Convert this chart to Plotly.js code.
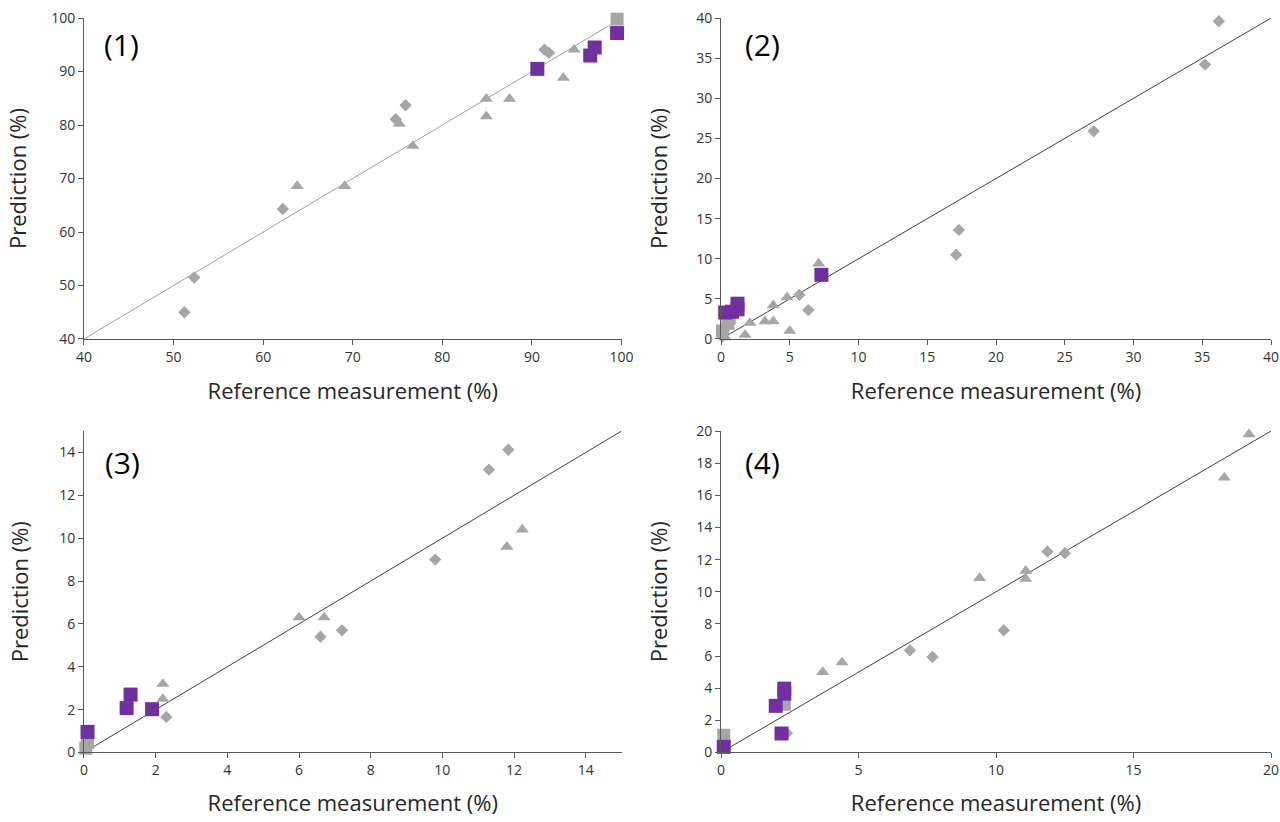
<!DOCTYPE html>
<html>
<head>
<meta charset="utf-8">
<script src="https://cdn.plot.ly/plotly-3.0.1.min.js"></script>
<style>html,body{margin:0;padding:0;background:#fff}#chart{width:1280px;height:822px}</style>
</head>
<body>
<div id="chart"></div>
<script>
// ---------- Panel (1) ----------
const p1DiamondX = [51.2, 52.3, 62.2, 74.8, 75.9, 91.4, 91.9];
const p1DiamondY = [45.0, 51.5, 64.3, 81.1, 83.7, 94.1, 93.5];
const p1TriangleX = [63.8, 69.1, 75.2, 76.7, 84.9, 84.9, 87.5, 93.5, 94.7];
const p1TriangleY = [68.6, 68.6, 80.2, 76.1, 84.9, 81.6, 84.9, 88.8, 94.1];
const p1GraySquareX = [99.5];
const p1GraySquareY = [99.8];
const p1PurpleX = [90.6, 96.5, 97.0, 99.5];
const p1PurpleY = [90.5, 93.0, 94.5, 97.2];
const p1LineX = [40, 100];
const p1LineY = [40, 100];

// ---------- Panel (2) ----------
const p2DiamondX = [36.2, 35.2, 27.1, 17.3, 17.1, 5.7, 6.35, 0.1, 0.2, 0.4];
const p2DiamondY = [39.6, 34.2, 25.9, 13.6, 10.5, 5.5, 3.6, 0.3, 1.0, 1.8];
const p2TriangleX = [7.1, 4.8, 3.8, 3.8, 3.2, 2.1, 5.0, 1.75, 0.3, 0.5, 0.5];
const p2TriangleY = [9.4, 5.2, 4.2, 2.2, 2.2, 2.0, 1.0, 0.5, 0.2, 2.3, 1.5];
const p2GraySquareX = [0.1, 0.5, 0.6];
const p2GraySquareY = [1.0, 2.0, 2.6];
const p2PurpleX = [7.3, 0.3, 0.8, 1.2, 1.2];
const p2PurpleY = [8.0, 3.3, 3.4, 4.4, 3.7];
const p2LineX = [0, 40];
const p2LineY = [0, 40];

// ---------- Panel (3) ----------
const p3DiamondX = [11.84, 11.3, 9.8, 6.6, 7.2, 2.3];
const p3DiamondY = [14.13, 13.2, 9.0, 5.4, 5.7, 1.66];
const p3TriangleX = [12.23, 11.8, 6.0, 6.7, 2.2, 2.2];
const p3TriangleY = [10.4, 9.6, 6.3, 6.3, 3.2, 2.5];
const p3GraySquareX = [0.1, 0.05];
const p3GraySquareY = [0.45, 0.2];
const p3PurpleX = [1.3, 1.19, 1.9, 0.1];
const p3PurpleY = [2.7, 2.07, 2.02, 0.96];
const p3LineX = [0, 15];
const p3LineY = [0, 15];

// ---------- Panel (4) ----------
const p4DiamondX = [11.87, 12.5, 10.28, 6.87, 7.69, 2.4];
const p4DiamondY = [12.5, 12.4, 7.6, 6.35, 5.94, 1.2];
const p4TriangleX = [19.2, 18.3, 11.08, 11.08, 9.4, 4.4, 3.7];
const p4TriangleY = [19.8, 17.1, 11.3, 10.8, 10.85, 5.6, 5.0];
const p4GraySquareX = [2.3, 0.1];
const p4GraySquareY = [3.0, 1.07];
const p4PurpleX = [2.3, 2.3, 1.99, 2.2, 0.1];
const p4PurpleY = [3.97, 3.66, 2.9, 1.18, 0.35];
const p4LineX = [0, 20];
const p4LineY = [0, 20];

const GRAY = '#a6a6a6';
const PURPLE = '#7030a0';

function panel(ax, lineColor, lx, ly, dx, dy, tx, ty, gx, gy, px, py) {
  const xa = 'x' + (ax === 1 ? '' : ax), ya = 'y' + (ax === 1 ? '' : ax);
  const common = {xaxis: xa, yaxis: ya, showlegend: false, cliponaxis: false, hoverinfo: 'x+y'};
  return [
    Object.assign({x: lx, y: ly, mode: 'lines', type: 'scatter', line: {color: lineColor, width: 1}}, common),
    Object.assign({x: dx, y: dy, mode: 'markers', type: 'scatter', marker: {symbol: 'diamond', size: 9.5, color: GRAY}}, common),
    Object.assign({x: tx, y: ty, mode: 'markers', type: 'scatter', marker: {symbol: 'triangle-up', size: 11.5, color: GRAY}}, common),
    Object.assign({x: gx, y: gy, mode: 'markers', type: 'scatter', marker: {symbol: 'square', size: 13, color: GRAY}}, common),
    Object.assign({x: px, y: py, mode: 'markers', type: 'scatter', marker: {symbol: 'square', size: 14, color: PURPLE}}, common)
  ];
}

const data = [].concat(
  panel(1, '#a0a0a0', p1LineX, p1LineY, p1DiamondX, p1DiamondY, p1TriangleX, p1TriangleY, p1GraySquareX, p1GraySquareY, p1PurpleX, p1PurpleY),
  panel(2, '#404040', p2LineX, p2LineY, p2DiamondX, p2DiamondY, p2TriangleX, p2TriangleY, p2GraySquareX, p2GraySquareY, p2PurpleX, p2PurpleY),
  panel(3, '#404040', p3LineX, p3LineY, p3DiamondX, p3DiamondY, p3TriangleX, p3TriangleY, p3GraySquareX, p3GraySquareY, p3PurpleX, p3PurpleY),
  panel(4, '#404040', p4LineX, p4LineY, p4DiamondX, p4DiamondY, p4TriangleX, p4TriangleY, p4GraySquareX, p4GraySquareY, p4PurpleX, p4PurpleY)
);

const FONT = 'Open Sans, Liberation Sans, sans-serif';
const axisBase = {
  showgrid: false, zeroline: false, showline: true, linecolor: '#595959', linewidth: 1,
  ticks: 'outside', ticklen: 5, tickcolor: '#595959', tickwidth: 1,
  tickfont: {family: FONT, size: 14, color: '#333333'}, fixedrange: true
};
function xAx(domain, range, dtick, anchor, standoff) {
  return Object.assign({}, axisBase, {domain: domain, range: range, dtick: dtick, tick0: 0, anchor: anchor,
    title: {text: 'Reference measurement (%)', font: {family: FONT, size: 22, color: '#262626'}, standoff: standoff}});
}
function yAx(domain, range, dtick, anchor, standoff) {
  return Object.assign({}, axisBase, {domain: domain, range: range, dtick: dtick, tick0: 0, anchor: anchor,
    title: {text: 'Prediction (%)', font: {family: FONT, size: 22, color: '#262626'}, standoff: standoff}});
}

const topY = [0.5876, 0.978];
const botY = [0.0846, 0.4756];
const leftX = [0.0656, 0.4856];
const rightX = [0.5633, 0.993];

const labelFont = {family: FONT, size: 30, color: '#000000'};
const layout = {
  width: 1280, height: 822,
  margin: {l: 0, r: 0, t: 0, b: 0},
  paper_bgcolor: '#ffffff', plot_bgcolor: '#ffffff',
  xaxis: xAx(leftX, [40, 100], 10, 'y', 18),
  yaxis: yAx(topY, [40, 100], 10, 'x', 18),
  xaxis2: xAx(rightX, [0, 40], 5, 'y2', 18),
  yaxis2: yAx(topY, [0, 40], 5, 'x2', 22),
  xaxis3: xAx(leftX, [0, 15], 2, 'y3', 17),
  yaxis3: yAx(botY, [0, 15], 2, 'x3', 24),
  xaxis4: xAx(rightX, [0, 20], 5, 'y4', 17),
  yaxis4: yAx(botY, [0, 20], 2, 'x4', 22),
  annotations: [
    {text: '(1)', xref: 'paper', yref: 'paper', x: 121 / 1280, y: 1 - 44 / 822, showarrow: false, font: labelFont, xanchor: 'center', yanchor: 'middle'},
    {text: '(2)', xref: 'paper', yref: 'paper', x: 762 / 1280, y: 1 - 44 / 822, showarrow: false, font: labelFont, xanchor: 'center', yanchor: 'middle'},
    {text: '(3)', xref: 'paper', yref: 'paper', x: 122 / 1280, y: 1 - 462 / 822, showarrow: false, font: labelFont, xanchor: 'center', yanchor: 'middle'},
    {text: '(4)', xref: 'paper', yref: 'paper', x: 762 / 1280, y: 1 - 462 / 822, showarrow: false, font: labelFont, xanchor: 'center', yanchor: 'middle'}
  ]
};

Plotly.newPlot('chart', data, layout, {displayModeBar: false, staticPlot: true});
</script>
</body>
</html>
